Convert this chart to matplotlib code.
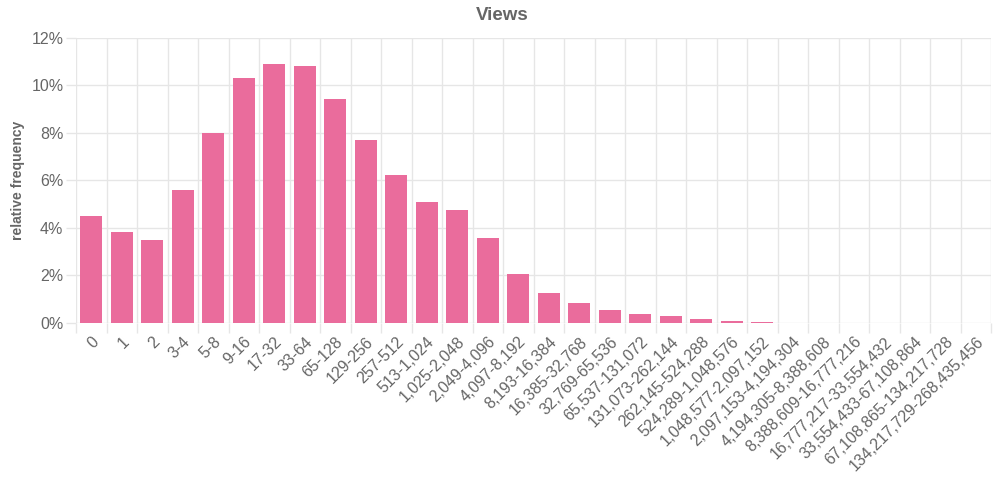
import matplotlib
matplotlib.use("Agg")
import matplotlib.pyplot as plt
from matplotlib.ticker import FuncFormatter, MultipleLocator, FixedLocator
import numpy as np

categories = ["0", "1", "2", "3-4", "5-8", "9-16", "17-32", "33-64", "65-128", "129-256",
              "257-512", "513-1,024", "1,025-2,048", "2,049-4,096", "4,097-8,192",
              "8,193-16,384", "16,385-32,768", "32,769-65,536", "65,537-131,072",
              "131,073-262,144", "262,145-524,288", "524,289-1,048,576",
              "1,048,577-2,097,152", "2,097,153-4,194,304", "4,194,305-8,388,608",
              "8,388,609-16,777,216", "16,777,217-33,554,432", "33,554,433-67,108,864",
              "67,108,865-134,217,728", "134,217,729-268,435,456"]
rel_freq = [4.5, 3.85, 3.5, 5.6, 8.0, 10.3, 10.9, 10.8, 9.45, 7.7,
            6.22, 5.09, 4.75, 3.56, 2.06, 1.25, 0.85, 0.53, 0.36, 0.28,
            0.15, 0.10, 0.05, 0.015, 0.008, 0.012, 0.005, 0.005, 0.005, 0.02]

plt.rcParams['font.family'] = ['Liberation Sans', 'DejaVu Sans']
grey = '#666666'
grid_c = '#e6e6e6'

fig = plt.figure(figsize=(10, 4.92), dpi=100)
ax = fig.add_axes([0.076, 0.3435, 0.915, 0.5793])

x = np.arange(len(categories))
ax.bar(x, rel_freq, width=0.72, color='#EA6C9C', zorder=3)

ax.set_xlim(-0.5, len(categories) - 0.5)
ax.set_ylim(0, 12)
ax.yaxis.set_major_locator(MultipleLocator(2))
ax.yaxis.set_major_formatter(FuncFormatter(lambda v, p: f"{int(v)}%"))
ax.grid(axis='y', color=grid_c, linewidth=1, zorder=0)

# vertical grid at band edges
edges = np.arange(-0.5, len(categories) + 0.5, 1.0)
for e in edges:
    ax.axvline(e, color=grid_c, linewidth=1, zorder=0)

ax.set_xticks(x)
ax.set_xticklabels(categories, rotation=45, ha='right', va='top', rotation_mode='anchor')
ax.xaxis.set_minor_locator(FixedLocator(edges))
ax.tick_params(axis='x', which='major', length=0, pad=8, labelsize=11.5, labelcolor=grey)
ax.tick_params(axis='x', which='minor', length=7, color=grid_c, width=1)
ax.tick_params(axis='y', length=7, color=grid_c, width=1, labelsize=11.5, labelcolor=grey, pad=2)

for s in ax.spines.values():
    s.set_visible(False)

fig.text(0.018, 1 - 180 / 492, 'relative frequency', rotation=90, ha='center', va='center',
         fontsize=10, fontweight='bold', color=grey)
fig.text(0.502, 1 - 15 / 492, 'Views', ha='center', va='center',
         fontsize=13.5, fontweight='bold', color=grey)

fig.savefig('out.png', dpi=100, facecolor='white')
